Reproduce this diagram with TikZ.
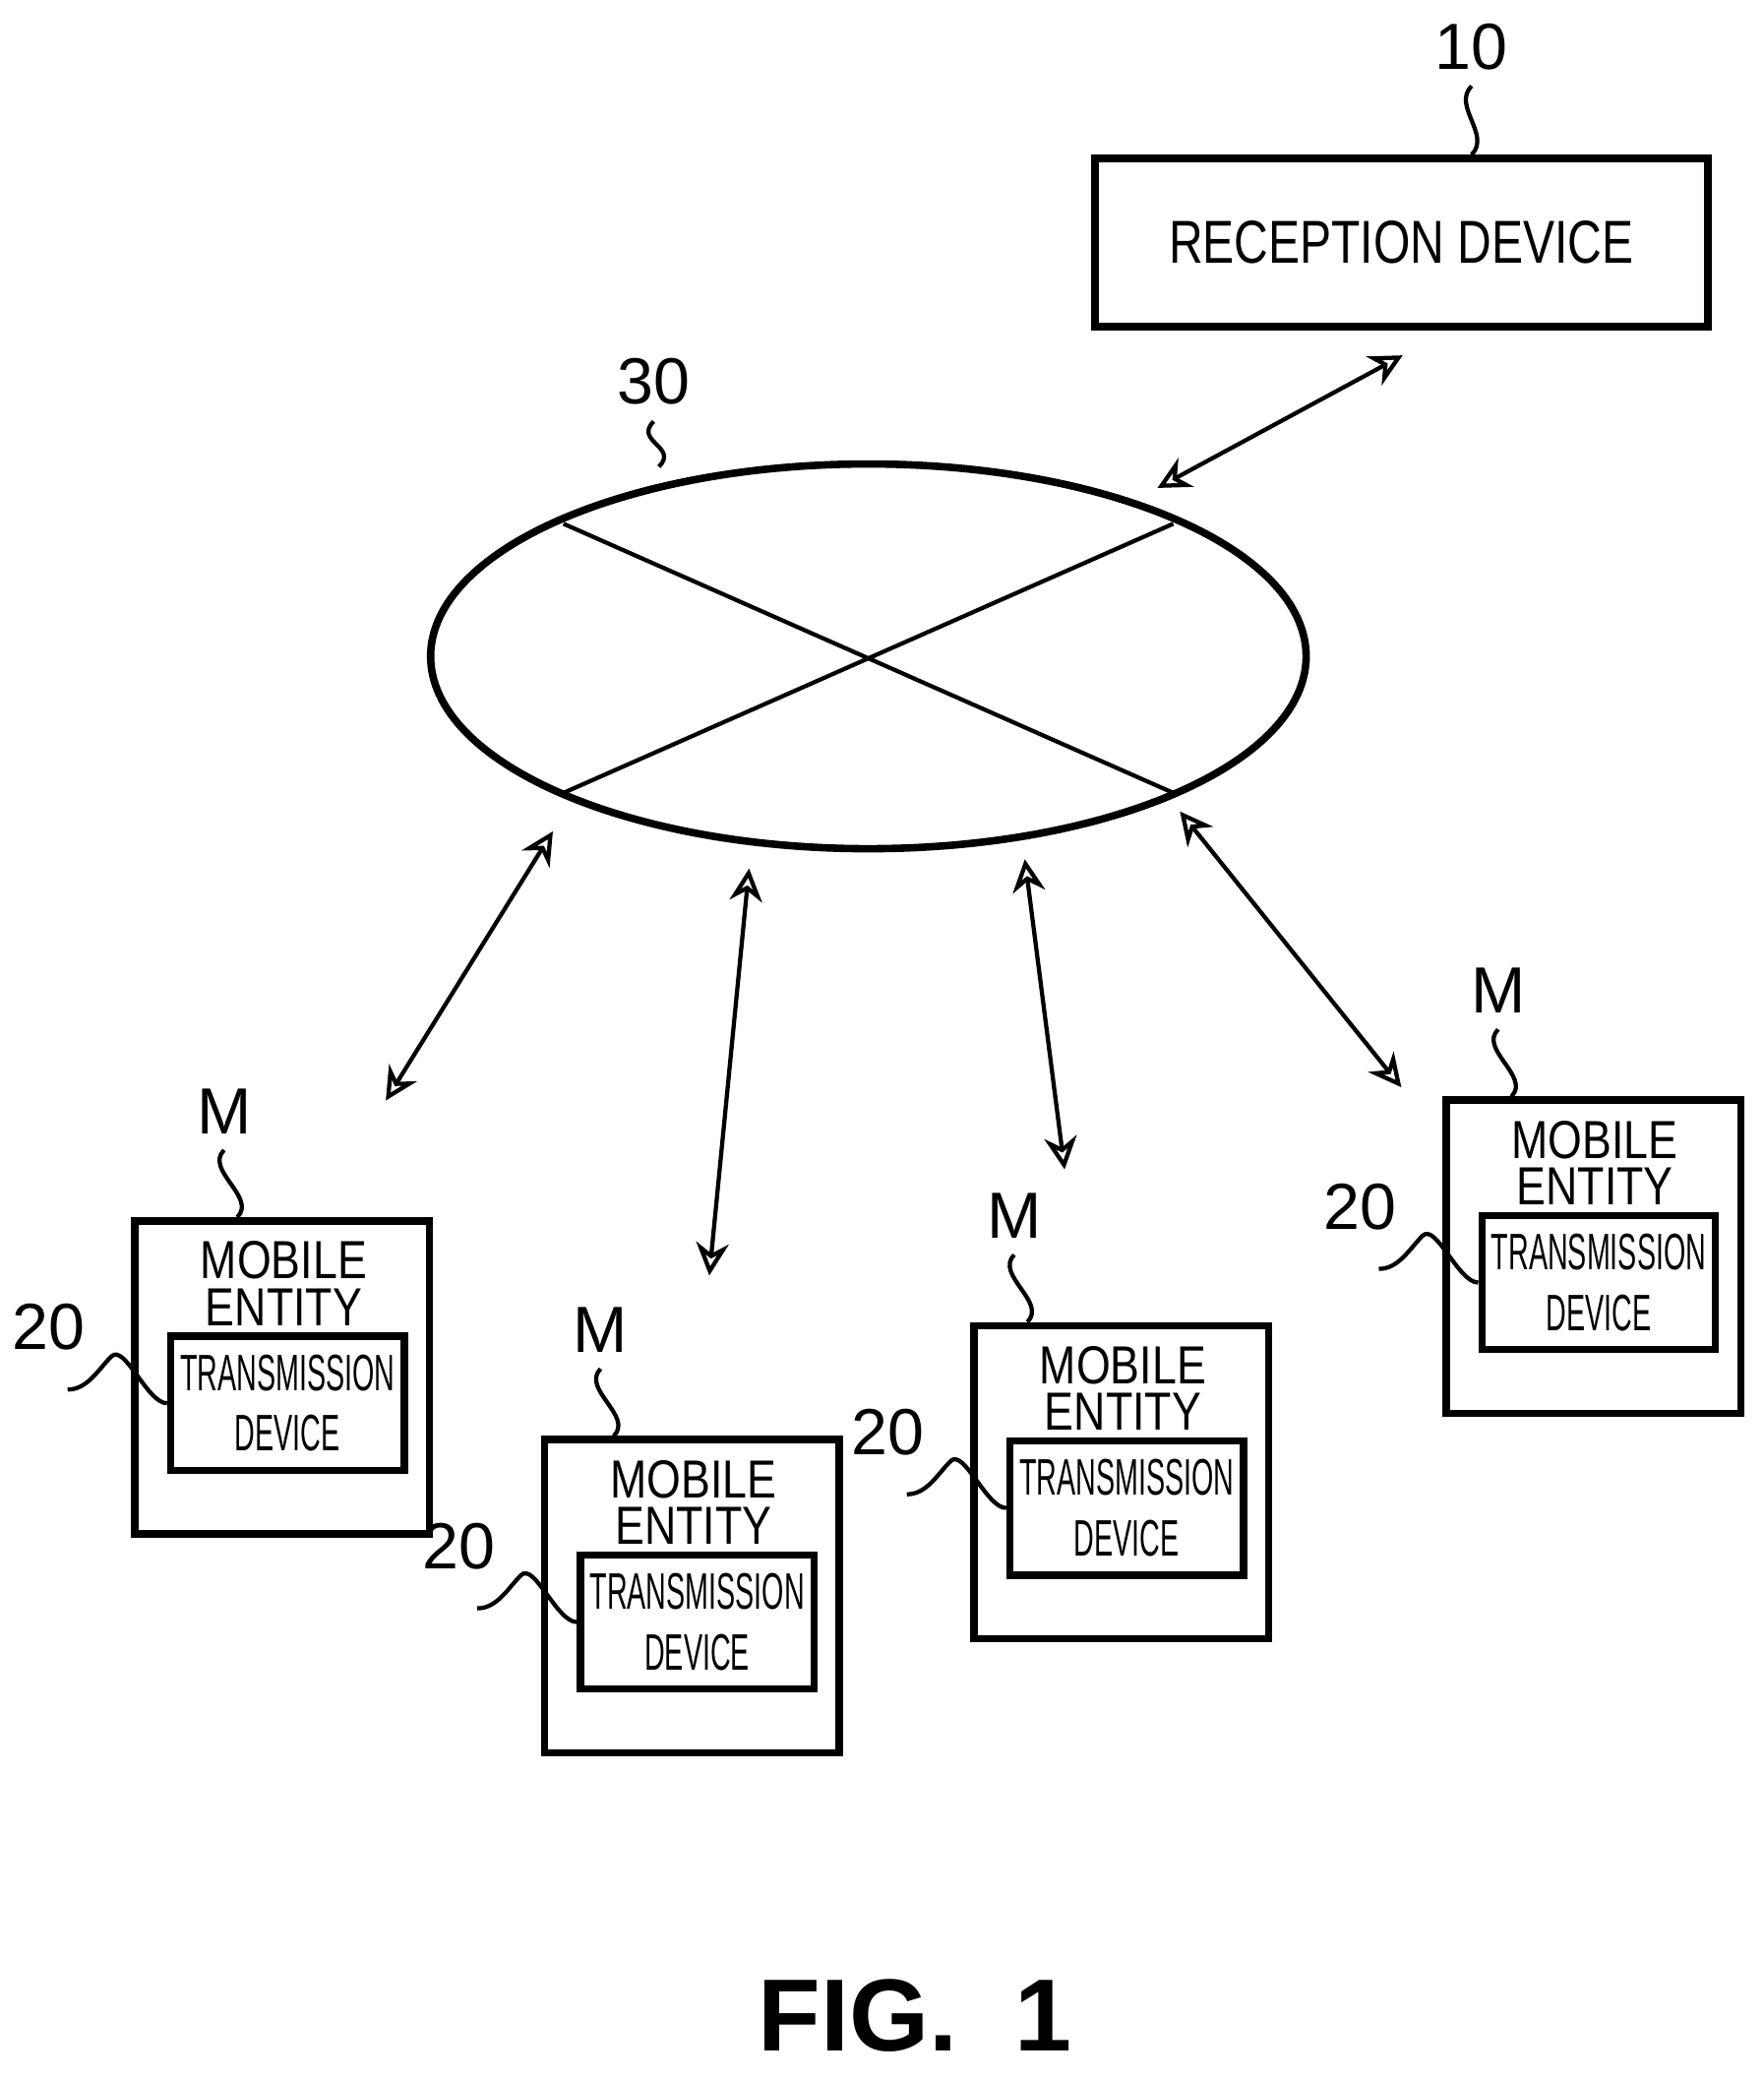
\documentclass[tikz,border=0pt]{standalone}
\usepackage{fontspec}
\setmainfont{Liberation Sans}
\usepackage{graphicx}
\usetikzlibrary{arrows.meta,shapes.geometric}
\newcommand{\nar}[2]{\scalebox{#1}[1]{#2}}
\begin{document}
\begin{tikzpicture}[x=0.01cm,y=-0.01cm]
\tikzstyle{box} = [draw,line width=1.6pt,inner sep=0pt]
\tikzstyle{link} = [{Stealth[length=7pt,width=7pt,open]}-{Stealth[length=7pt,width=7pt,open]},line width=0.9pt]
\tikzstyle{ref} = [font=\fontsize{14}{14}\selectfont]
\tikzstyle{wave} = [line width=0.9pt]

\useasboundingbox (0,0) rectangle (1330,1568);

% reception device
\node[box,minimum width=4.62cm,minimum height=1.27cm,font=\fontsize{13}{13}\selectfont] (rx) at (1057,183) {\nar{0.78}{RECEPTION DEVICE}};
\node[ref] (n10) at (1110,35) {10};
\draw[wave] (n10.south) .. controls +(-15,15) and +(15,-15) .. (rx.north -| n10.south);

% network
\node[draw,line width=1.6pt,ellipse,minimum width=6.6cm,minimum height=2.9cm,inner sep=0pt] (net) at (655,495) {};
\draw[line width=0.9pt] (425,395) -- (885,598);
\draw[line width=0.9pt] (425,598) -- (885,395);
\node[ref] (n30) at (493,288) {30};
\draw[wave] (n30.south) .. controls +(-15,15) and +(15,-15) .. (497,352);

% mobile entities
\foreach \i/\x/\y/\m in {a/99/918/70, b/408/1083/45, c/732/997/33, d/1088/827/42} {
  \node[box,anchor=north west,minimum width=2.22cm,minimum height=2.36cm] (me\i) at (\x,\y) {};
  \node[font=\fontsize{11.5}{10}\selectfont,align=center,anchor=north] (lbl\i) at (\x+115,\y+6) {\nar{0.82}{MOBILE}\\\nar{0.82}{ENTITY}};
  \node[box,anchor=north west,minimum width=1.76cm,minimum height=1.01cm,font=\fontsize{11}{13}\selectfont,align=center] (tx\i) at (\x+27,\y+87) {\nar{0.55}{TRANSMISSION}\\\nar{0.55}{DEVICE}};
  \node[ref] (m\i) at (\x+\m,\y-80) {M};
  \draw[wave] (m\i.south) .. controls +(-15,15) and +(15,-15) .. (\x+\m+10,\y);
  \node[ref] (t\i) at (\x-62,\y+83) {20};
  \draw[wave] (\x-48,\y+130) .. controls +(15,0) and +(-10,10) .. (\x-15,\y+105) .. controls +(10,-10) and +(-15,0) .. (tx\i.west);
}

% links
\coordinate (ra) at (873,368); \coordinate (rb) at (1058,268);
\coordinate (a1) at (417,627); \coordinate (a2) at (291,830);
\coordinate (b1) at (565,655); \coordinate (b2) at (535,962);
\coordinate (c1) at (773,648); \coordinate (c2) at (803,882);
\coordinate (d1) at (890,612); \coordinate (d2) at (1057,820);
\draw[link] (ra) -- (rb);
\draw[link] (a1) -- (a2);
\draw[link] (b1) -- (b2);
\draw[link] (c1) -- (c2);
\draw[link] (d1) -- (d2);

\node[font=\fontsize{22}{22}\selectfont\bfseries] (fig) at (690,1520) {FIG.~~1};
\end{tikzpicture}
\end{document}
